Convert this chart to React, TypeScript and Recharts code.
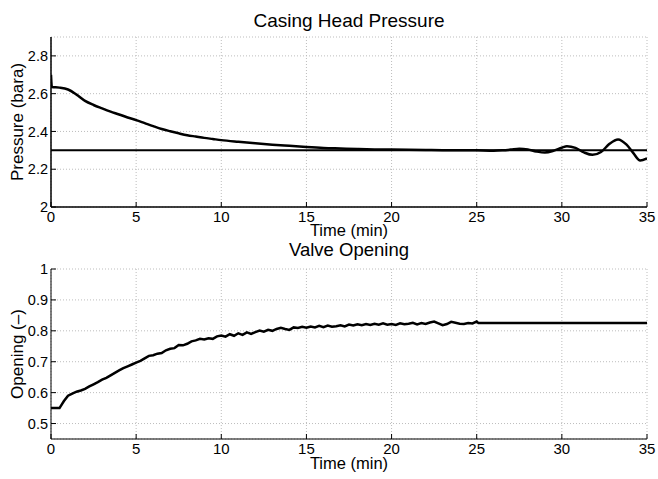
import * as React from "react"
import { LineChart, Line, XAxis, YAxis, CartesianGrid } from "recharts"

// time axis shared by both plots
const timeTicks = [0, 5, 10, 15, 20, 25, 30, 35]
const pressureTicks = [2, 2.2, 2.4, 2.6, 2.8]
const openingTicks = [0.5, 0.6, 0.7, 0.8, 0.9, 1]

// casing head pressure (bara)
const pressureTime = [0, 0.05, 0.5, 1, 1.5, 2, 2.5, 3, 3.5, 4, 4.5, 5, 5.5, 6, 6.5, 7, 7.5, 8, 8.5, 9, 9.5, 10, 11, 12, 13, 14, 15, 16, 17, 18, 19, 20, 21, 22, 23, 24, 25, 26, 26.5, 27, 27.5, 28, 28.5, 29, 29.5, 30, 30.3, 30.8, 31.3, 31.8, 32.3, 32.8, 33.3, 33.8, 34.2, 34.6, 35]
const pressureValue = [2.7, 2.635, 2.632, 2.622, 2.595, 2.562, 2.54, 2.522, 2.505, 2.49, 2.474, 2.46, 2.444, 2.428, 2.413, 2.401, 2.39, 2.38, 2.373, 2.366, 2.36, 2.354, 2.345, 2.337, 2.33, 2.324, 2.318, 2.313, 2.31, 2.307, 2.305, 2.304, 2.303, 2.302, 2.301, 2.301, 2.3, 2.298, 2.3, 2.304, 2.309, 2.305, 2.294, 2.288, 2.297, 2.314, 2.322, 2.313, 2.289, 2.276, 2.291, 2.335, 2.358, 2.33, 2.285, 2.246, 2.258]

// pressure setpoint
const setpointTime = [0, 35]
const setpointValue = [2.3, 2.3]

// valve opening (-)
const openingTime = [0, 0.5, 0.75, 1, 1.25, 1.5, 1.75, 2, 2.25, 2.5, 2.75, 3, 3.25, 3.5, 3.75, 4, 4.25, 4.5, 4.75, 5, 5.25, 5.5, 5.75, 6, 6.25, 6.5, 6.75, 7, 7.25, 7.5, 7.75, 8, 8.25, 8.5, 8.75, 9, 9.25, 9.5, 9.75, 10, 10.25, 10.5, 10.75, 11, 11.25, 11.5, 11.75, 12, 12.25, 12.5, 12.75, 13, 13.25, 13.5, 13.75, 14, 14.25, 14.5, 14.75, 15, 15.25, 15.5, 15.75, 16, 16.25, 16.5, 16.75, 17, 17.25, 17.5, 17.75, 18, 18.25, 18.5, 18.75, 19, 19.25, 19.5, 19.75, 20, 20.25, 20.5, 20.75, 21, 21.25, 21.5, 21.75, 22, 22.25, 22.5, 22.75, 23, 23.25, 23.5, 23.75, 24, 24.25, 24.5, 24.75, 25, 25.1, 35]
const openingValue = [0.55, 0.55, 0.572, 0.59, 0.597, 0.603, 0.607, 0.612, 0.62, 0.627, 0.634, 0.642, 0.648, 0.656, 0.664, 0.672, 0.679, 0.685, 0.691, 0.697, 0.703, 0.711, 0.719, 0.721, 0.726, 0.728, 0.737, 0.742, 0.744, 0.754, 0.753, 0.758, 0.766, 0.769, 0.774, 0.772, 0.776, 0.774, 0.782, 0.785, 0.781, 0.789, 0.784, 0.792, 0.787, 0.795, 0.79, 0.796, 0.801, 0.797, 0.803, 0.8, 0.806, 0.81, 0.806, 0.803, 0.811, 0.809, 0.813, 0.81, 0.814, 0.811, 0.816, 0.812, 0.817, 0.813, 0.815, 0.818, 0.814, 0.82, 0.817, 0.821, 0.818, 0.822, 0.819, 0.823, 0.82, 0.824, 0.82, 0.822, 0.819, 0.824, 0.821, 0.823, 0.826, 0.821, 0.825, 0.822, 0.827, 0.83, 0.824, 0.818, 0.822, 0.829, 0.826, 0.823, 0.822, 0.825, 0.824, 0.83, 0.825, 0.825]

const zip = (ts: number[], vs: number[]) => ts.map((t, i) => ({ t, v: vs[i] }))
const pressureData = zip(pressureTime, pressureValue)
const setpointData = zip(setpointTime, setpointValue)
const openingData = zip(openingTime, openingValue)

const FONT = "'Liberation Sans', Arial, Helvetica, sans-serif"
const TICK_LEN = 5

// MATLAB style ticks: label outside, short mark pointing into the axes
const LeftTick = (props: any) => {
  const { x, y, payload } = props
  return (
    <g>
      <line x1={x + 3} x2={x + 3 + TICK_LEN} y1={y} y2={y} stroke="#000" strokeWidth={1} />
      <text x={x} y={y} dy="0.35em" textAnchor="end" fontSize={14.5} fontFamily={FONT} fill="#000">
        {String(payload.value)}
      </text>
    </g>
  )
}

const BottomTick = (props: any) => {
  const { x, y, payload } = props
  return (
    <g>
      <line x1={x} x2={x} y1={y - 4} y2={y - 4 - TICK_LEN} stroke="#000" strokeWidth={1} />
      <text x={x} y={y} dy="0.72em" textAnchor="middle" fontSize={15} fontFamily={FONT} fill="#000">
        {String(payload.value)}
      </text>
    </g>
  )
}

const RightTick = (props: any) => {
  const { x, y } = props
  return <line x1={x} x2={x - TICK_LEN} y1={y} y2={y} stroke="#000" strokeWidth={1} />
}

const TopTick = (props: any) => {
  const { x, y } = props
  return <line x1={x} x2={x} y1={y} y2={y + TICK_LEN} stroke="#000" strokeWidth={1} />
}

const gridProps = { stroke: "#bdbdbd", strokeDasharray: "1 2", strokeWidth: 1 }

export default function App() {
  return (
    <div style={{ position: "absolute", left: 0, top: 0, width: 658, height: 479, background: "#fff", fontFamily: FONT }}>
      <div style={{ position: "absolute", left: 0, top: 0 }}>
        <LineChart width={658} height={240} margin={{ top: 37, right: 11, bottom: 0, left: 6 }}>
          <CartesianGrid {...gridProps} xAxisId="b" yAxisId="l" />
          <XAxis xAxisId="b" dataKey="t" type="number" domain={[0, 35]} ticks={timeTicks} interval={0}
            allowDataOverflow height={33} tickSize={0} tickMargin={4} tick={<BottomTick />}
            axisLine={{ stroke: "#000", strokeWidth: 1.5 }} />
          <XAxis xAxisId="top" orientation="top" dataKey="t" type="number" domain={[0, 35]} ticks={timeTicks}
            interval={0} allowDataOverflow height={0} tickSize={0} tickMargin={0} tick={<TopTick />}
            axisLine={{ stroke: "#000", strokeWidth: 1.5 }} />
          <YAxis yAxisId="l" type="number" domain={[2, 2.9]} ticks={pressureTicks} interval={0}
            allowDataOverflow width={45} tickSize={0} tickMargin={3} tick={<LeftTick />}
            axisLine={{ stroke: "#000", strokeWidth: 1.5 }} />
          <YAxis yAxisId="r" orientation="right" type="number" domain={[2, 2.9]} ticks={pressureTicks}
            interval={0} allowDataOverflow width={0} tickSize={0} tickMargin={0} tick={<RightTick />}
            axisLine={{ stroke: "#000", strokeWidth: 1.5 }} />
          <Line xAxisId="b" yAxisId="l" data={setpointData} dataKey="v" type="linear" stroke="#000"
            strokeWidth={2} dot={false} isAnimationActive={false} />
          <Line xAxisId="b" yAxisId="l" data={pressureData} dataKey="v" type="monotone" stroke="#000"
            strokeWidth={2.5} dot={false} isAnimationActive={false} />
        </LineChart>
      </div>
      <div style={{ position: "absolute", left: 0, top: 240 }}>
        <LineChart width={658} height={239} margin={{ top: 29, right: 11, bottom: 0, left: 6 }}>
          <CartesianGrid {...gridProps} xAxisId="b" yAxisId="l" />
          <XAxis xAxisId="b" dataKey="t" type="number" domain={[0, 35]} ticks={timeTicks} interval={0}
            allowDataOverflow height={40} tickSize={0} tickMargin={4} tick={<BottomTick />}
            axisLine={{ stroke: "#000", strokeWidth: 1 }} />
          <YAxis yAxisId="l" type="number" domain={[0.45, 1]} ticks={openingTicks} interval={0}
            allowDataOverflow width={45} tickSize={0} tickMargin={3} tick={<LeftTick />}
            axisLine={{ stroke: "#000", strokeWidth: 1 }} />
          <Line xAxisId="b" yAxisId="l" data={openingData} dataKey="v" type="linear" stroke="#000"
            strokeWidth={2.5} dot={false} isAnimationActive={false} />
        </LineChart>
      </div>
      <svg width={658} height={479} style={{ position: "absolute", left: 0, top: 0, pointerEvents: "none" }}>
        <g fontFamily={FONT} fill="#000" textAnchor="middle">
          <text x={349} y={27} fontSize={19}>Casing Head Pressure</text>
          <text x={349} y={236} fontSize={16.5}>Time (min)</text>
          <text transform="translate(23,122) rotate(-90)" fontSize={17}>Pressure (bara)</text>
          <text x={349} y={256} fontSize={18.5}>Valve Opening</text>
          <text x={349} y={469} fontSize={16.5}>Time (min)</text>
          <text transform="translate(23,354) rotate(-90)" fontSize={17}>Opening (–)</text>
        </g>
      </svg>
    </div>
  )
}
